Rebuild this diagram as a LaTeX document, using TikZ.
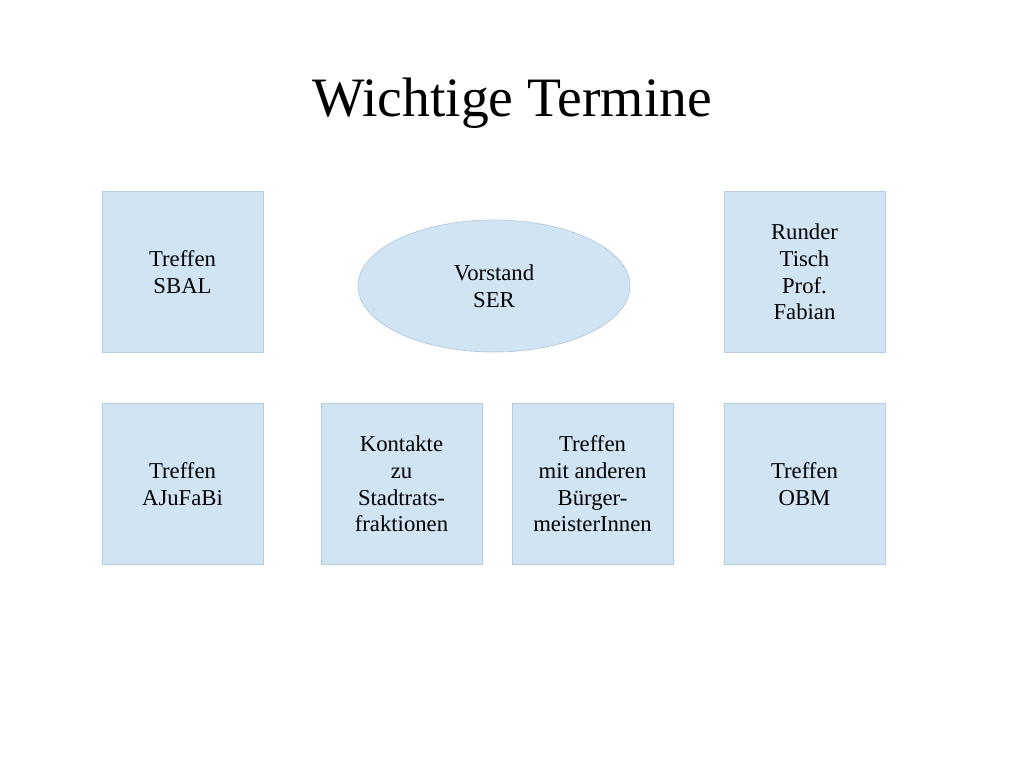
\documentclass[tikz,border=0pt]{standalone}
\usepackage{fontspec}
\setmainfont{Liberation Serif}
\usetikzlibrary{shapes.geometric}
\definecolor{boxfill}{HTML}{D0E4F3}
\definecolor{boxline}{HTML}{B9CDE0}
\begin{document}
\begin{tikzpicture}[x=1pt,y=-1pt,
  tbox/.style={draw=boxline,fill=boxfill,line width=0.8pt,minimum width=161pt,minimum height=161pt,inner sep=0pt,align=center,font=\fontsize{22.7}{26.7}\selectfont,text=black},
  tell/.style={ellipse,draw=boxline,fill=boxfill,line width=0.8pt,minimum width=272pt,minimum height=132pt,inner sep=0pt,align=center,font=\fontsize{22.7}{26.7}\selectfont,text=black}]
\useasboundingbox (0,0) rectangle (1024,768);
\fill[white] (0,0) rectangle (1024,768);
\node[font=\fontsize{55.6}{60}\selectfont] (title) at (512,103) {Wichtige Termine};
\node[tbox] (sbal) at (182.5,272) {Treffen\\SBAL};
\node[tell] (ser) at (494,286) {Vorstand\\SER};
\node[tbox] (rt) at (804.5,272) {Runder\\Tisch\\Prof.\\Fabian};
\node[tbox] (aju) at (182.5,484) {Treffen\\AJuFaBi};
\node[tbox] (kon) at (401.5,484) {Kontakte\\zu\\Stadtrats-\\fraktionen};
\node[tbox] (bm) at (592.5,484) {Treffen\\mit anderen\\Bürger-\\meisterInnen};
\node[tbox] (obm) at (804.5,484) {Treffen\\OBM};
\end{tikzpicture}
\end{document}
